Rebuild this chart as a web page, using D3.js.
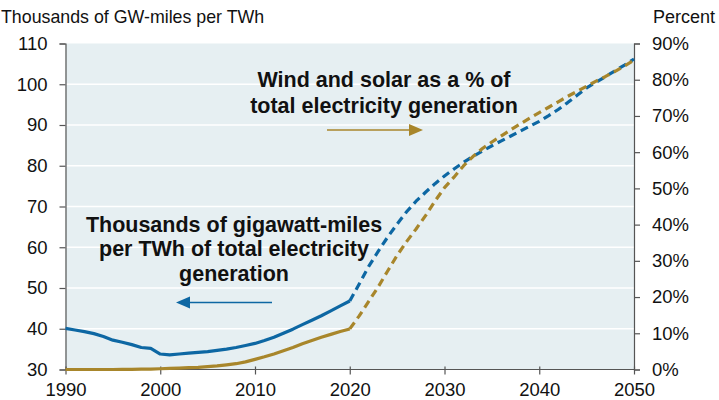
<!DOCTYPE html>
<html><head><meta charset="utf-8">
<script src="https://cdn.jsdelivr.net/npm/d3@7"></script>
<style>
body{margin:0;background:#fff;}
svg{display:block;font-family:"Liberation Sans",Arial,sans-serif;}
</style></head>
<body>
<svg id="chart" width="719" height="400"></svg>
<script>
// Historical years (solid) and projection years (dashed)
const histYears = d3.range(1990, 2021);
const projYears = d3.range(2020, 2051);

// Thousands of GW-miles per TWh (left axis)
const gwMilesHist = [40.1,39.7,39.3,38.8,38.1,37.2,36.7,36.1,35.4,35.2,33.8,33.6,33.8,34.0,34.2,34.4,34.7,35.0,35.4,35.9,36.4,37.1,37.9,38.9,39.9,41.0,42.1,43.2,44.4,45.6,46.8];
const gwMilesProj = [46.8,51.0,55.3,59.0,62.5,65.7,68.7,71.3,73.5,75.6,77.5,79.2,80.8,82.3,83.6,84.9,86.1,87.3,88.5,89.7,90.9,92.3,93.8,95.5,97.3,99.1,100.5,101.9,103.3,104.7,106.2];

// Wind and solar share, percent (right axis)
const windSolarHist = [0,0,0,0,0,0,0.05,0.05,0.1,0.1,0.2,0.3,0.4,0.5,0.6,0.8,1.0,1.3,1.6,2.1,2.8,3.5,4.3,5.2,6.1,7.1,8.0,8.9,9.7,10.5,11.2];
const windSolarProj = [11.2,14.8,18.8,22.8,27.2,31.5,35.3,38.8,42.5,46.5,50.2,53.1,56.2,58.8,61.0,62.8,64.5,66.2,67.8,69.4,70.9,72.4,73.9,75.4,76.8,78.2,79.6,80.9,82.3,83.8,85.4];

const xTicks = [1990,2000,2010,2020,2030,2040,2050];
const leftTicks = [30,40,50,60,70,80,90,100,110];
const rightTicks = [0,10,20,30,40,50,60,70,80,90];

const leftTitle = "Thousands of GW-miles per TWh";
const rightTitle = "Percent";
const blueNote = ["Thousands of gigawatt-miles","per TWh of total electricity","generation"];
const goldNote = ["Wind and solar as a % of","total electricity generation"];

const BLUE = "#0d67a3", GOLD = "#a8862b", BG = "#e6eff2", AX = "#555";

const svg = d3.select("#chart");
const L = 65.5, R = 634, T = 43.5, B = 369.5;

const x = d3.scaleLinear().domain([1990,2050]).range([L,R]);
const yL = d3.scaleLinear().domain([30,110]).range([B,T]);
const yR = d3.scaleLinear().domain([0,90]).range([B,T]);

svg.append("rect").attr("x",L).attr("y",T).attr("width",R-L).attr("height",B-T).attr("fill",BG);

// gridlines
svg.append("g").selectAll("line").data(leftTicks.slice(1,-1)).join("line")
  .attr("x1",L).attr("x2",R).attr("y1",d=>yL(d)).attr("y2",d=>yL(d))
  .attr("stroke","#fff").attr("stroke-width",1.5);

// axes
const fs = "18.5px";
const gL = svg.append("g").attr("transform",`translate(${L},0)`)
  .call(d3.axisLeft(yL).tickValues(leftTicks).tickSize(6).tickPadding(12));
const gR = svg.append("g").attr("transform",`translate(${R},0)`)
  .call(d3.axisRight(yR).tickValues(rightTicks).tickSize(6).tickPadding(12).tickFormat(d=>d+"%"));
const gB = svg.append("g").attr("transform",`translate(0,${B})`)
  .call(d3.axisBottom(x).tickValues(xTicks).tickSize(5).tickFormat(d3.format("d")).tickPadding(8));
[gL,gR,gB].forEach(g=>{
  g.select(".domain").attr("stroke",AX).attr("stroke-width",1.2);
  g.selectAll(".tick line").attr("stroke",AX).attr("stroke-width",1.2);
  g.selectAll("text").attr("font-size",fs).attr("fill","#111").attr("font-family","Liberation Sans, Arial, sans-serif");
});
gB.selectAll(".tick line").attr("y1",-3);
gB.select(".domain").remove();
svg.append("line").attr("x1",L).attr("x2",R).attr("y1",B).attr("y2",B).attr("stroke",AX).attr("stroke-width",1.2);

// axis titles
svg.append("text").attr("x",1).attr("y",23).attr("font-size","17.8px").attr("fill","#111").text(leftTitle);
svg.append("text").attr("x",715).attr("y",23).attr("text-anchor","end").attr("font-size","18px").attr("fill","#111").text(rightTitle);

// lines
const lineL = d3.line().x(d=>x(d[0])).y(d=>yL(d[1]));
const lineR = d3.line().x(d=>x(d[0])).y(d=>yR(d[1]));
const sw = 3.2, dash = "8,5";
function draw(gen, years, vals, color, dashed){
  svg.append("path").datum(years.map((y,i)=>[y,vals[i]])).attr("d",gen)
    .attr("fill","none").attr("stroke",color).attr("stroke-width",sw)
    .attr("stroke-dasharray",dashed?dash:null).attr("stroke-linejoin","round");
}
draw(lineR, histYears, windSolarHist, GOLD, false);
draw(lineL, histYears, gwMilesHist, BLUE, false);
draw(lineL, projYears, gwMilesProj, BLUE, true);
draw(lineR, projYears, windSolarProj, GOLD, true);

// annotations
const nb = svg.append("text").attr("text-anchor","middle").attr("font-weight","bold").attr("font-size","21.5px").attr("fill","#111");
blueNote.forEach((t,i)=>nb.append("tspan").attr("x",234).attr("y",231.5+i*24.5).text(t));
const ng = svg.append("text").attr("text-anchor","middle").attr("font-weight","bold").attr("font-size","21.5px").attr("fill","#111");
goldNote.forEach((t,i)=>ng.append("tspan").attr("x",384).attr("y",87+i*25.5).text(t));

// arrows
svg.append("line").attr("x1",272).attr("x2",186).attr("y1",302.5).attr("y2",302.5).attr("stroke",BLUE).attr("stroke-width",1.5);
svg.append("path").attr("d","M176,302.5 L190,296.5 L190,308.5 Z").attr("fill",BLUE);
svg.append("line").attr("x1",327).attr("x2",412).attr("y1",130).attr("y2",130).attr("stroke",GOLD).attr("stroke-width",1.5);
svg.append("path").attr("d","M423,130 L409,124 L409,136 Z").attr("fill",GOLD);
</script>
</body></html>
